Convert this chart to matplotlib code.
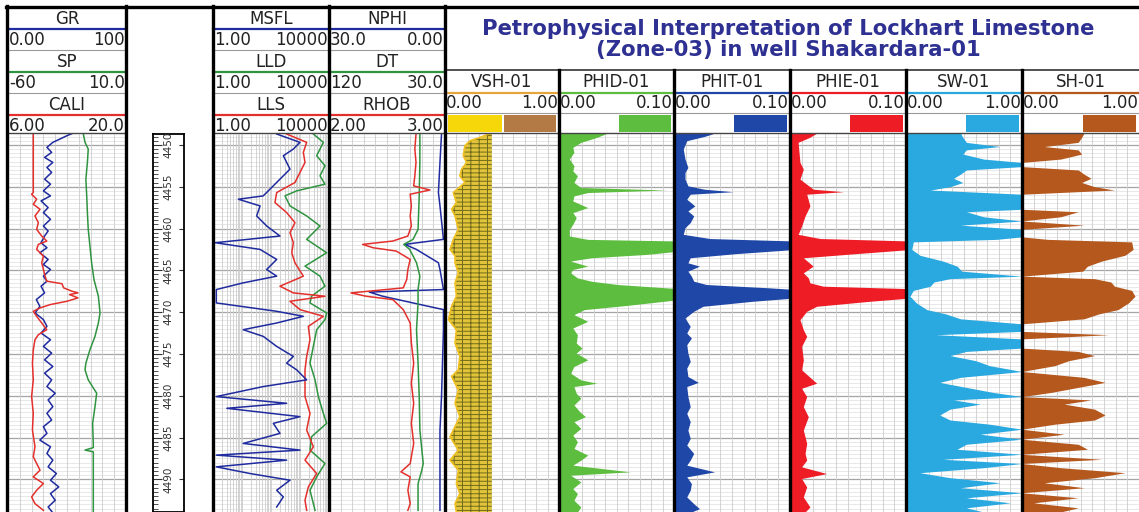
import numpy as np
import matplotlib.pyplot as plt

plt.rcParams['font.family'] = ['DejaVu Sans']
plt.rcParams['hatch.linewidth'] = 0.7

# ---------------- log data (depth in ft) ----------------
gr_depth = [4448.6, 4448.9, 4449.7, 4450.3, 4450.9, 4451.5, 4452.1, 4452.7, 4453.3, 4454.1,
            4454.7, 4455.5, 4456.1, 4456.7, 4457.5, 4458.1, 4458.9, 4459.7, 4460.3, 4460.9,
            4461.7, 4462.3, 4462.9, 4463.7, 4464.3, 4464.9, 4465.7, 4466.3, 4466.9, 4467.7,
            4468.5, 4469.3, 4470.1, 4470.9, 4471.7, 4472.5, 4473.3, 4474.1, 4474.9, 4475.7,
            4476.5, 4477.3, 4478.1, 4478.9, 4479.7, 4480.5, 4481.3, 4482.1, 4482.9, 4483.7,
            4484.5, 4485.3, 4486.1, 4486.9, 4487.7, 4488.5, 4489.3, 4490.1, 4490.9, 4491.7,
            4492.5, 4493.3, 4494.0]
gr = [55, 50, 38, 33, 37, 31, 38, 33, 37, 31,
      36, 30, 36, 28, 34, 30, 36, 30, 34, 31,
      28, 33, 27, 34, 30, 36, 30, 33, 28, 31,
      24, 27, 23, 30, 33, 28, 36, 30, 37, 31,
      38, 31, 37, 33, 40, 34, 38, 33, 37, 30,
      33, 27, 36, 33, 38, 34, 41, 36, 43, 36,
      40, 34, 38]

sp_depth = [4448.7, 4449.7, 4450.5, 4452.1, 4454.1, 4456.1, 4458.1, 4460.1, 4462.1, 4464.1,
            4466.1, 4468.1, 4470.1, 4471.3, 4472.9, 4474.5, 4476.1, 4476.9, 4478.1, 4479.7,
            4481.3, 4483.3, 4485.7, 4486.2, 4486.5, 4486.7, 4494.0]
sp = [-15.3, -14.3, -12.4, -12.9, -13.8, -13.3, -12.9, -12.4, -11.4, -10.4,
      -9.0, -6.4, -5.4, -6.4, -8.4, -11.4, -13.8, -14.3, -12.4, -7.4,
      -8.4, -9.8, -9.4, -9.4, -14.3, -9.4, -9.4]

cali_depth = [4448.6, 4455.7, 4455.9, 4456.5, 4457.1, 4457.7, 4458.5, 4459.3, 4460.1, 4460.9,
              4461.5, 4461.9, 4462.5, 4463.3, 4464.1, 4464.9, 4465.7, 4466.3, 4466.6, 4467.1,
              4467.5, 4467.7, 4467.9, 4468.3, 4468.7, 4469.1, 4469.5, 4469.9, 4470.5, 4471.3,
              4472.1, 4472.7, 4473.3, 4474.5, 4476.1, 4478.1, 4480.1, 4482.1, 4484.1, 4486.1,
              4487.3, 4488.1, 4488.9, 4489.7, 4490.5, 4491.3, 4492.1, 4492.9, 4493.7]
cali = [9.0, 9.0, 8.8, 9.4, 9.0, 9.8, 9.2, 9.6, 9.4, 10.0,
        10.6, 9.6, 9.4, 10.2, 10.0, 10.2, 10.4, 10.6, 12.4, 12.6,
        13.6, 14.3, 13.3, 14.3, 13.0, 11.0, 9.8, 9.0, 9.4, 10.0,
        10.6, 9.6, 9.2, 9.0, 8.9, 9.0, 8.8, 9.0, 8.9, 9.2,
        9.0, 9.4, 9.8, 9.0, 10.2, 9.4, 8.8, 9.2, 10.2]

msfl_depth = [4448.7, 4449.7, 4450.5, 4451.3, 4452.1, 4452.9, 4454.1, 4455.3, 4456.1, 4456.5,
              4457.3, 4458.5, 4459.7, 4460.9, 4461.7, 4462.5, 4463.7, 4464.9, 4465.7, 4466.5,
              4467.3, 4468.9, 4469.9, 4470.5, 4471.3, 4472.1, 4472.9, 4474.1, 4475.3, 4476.1,
              4476.9, 4478.1, 4478.9, 4480.1, 4480.9, 4481.5, 4482.5, 4483.3, 4484.5, 4485.7,
              4486.5, 4487.1, 4487.7, 4488.5, 4489.3, 4490.1, 4491.3, 4492.1, 4493.3]
msfl = [157, 1000, 589, 266, 347, 452, 204, 92, 54, 7.5,
        42, 32, 71, 204, 1.2, 42, 157, 71, 157, 11,
        1.3, 1.3, 157, 1303, 157, 11, 54, 157, 589, 347,
        767, 1698, 54, 1.3, 347, 3, 1000, 120, 204, 11,
        1000, 1.3, 347, 1.3, 19, 452, 157, 266, 157]

lld_depth = [4448.7, 4449.7, 4451.3, 4452.5, 4453.7, 4454.7, 4455.5, 4456.1, 4457.3, 4458.5,
             4459.7, 4461.3, 4462.9, 4464.5, 4465.7, 4466.9, 4468.1, 4468.9, 4470.1, 4470.9,
             4472.1, 4474.1, 4476.1, 4478.1, 4480.1, 4482.1, 4483.3, 4484.9, 4486.5, 4488.1,
             4489.7, 4491.3, 4492.9, 4493.7]
lld = [2884, 6383, 3758, 7278, 4898, 7278, 767, 304, 452, 1698,
       4898, 1698, 8318, 1487, 4898, 7278, 2500, 2213, 8318, 7278,
       3758, 2884, 2213, 3300, 4300, 6383, 8318, 2500, 2213, 7278,
       3758, 2213, 2884, 3300]

lls_depth = [4448.7, 4449.7, 4450.9, 4452.1, 4453.3, 4454.5, 4455.7, 4456.9, 4458.1, 4459.3,
             4460.5, 4461.7, 4462.9, 4464.1, 4465.7, 4466.9, 4467.7, 4468.1, 4468.7, 4469.7,
             4470.5, 4471.7, 4473.3, 4475.3, 4476.9, 4478.5, 4480.1, 4482.1, 4484.1, 4486.1,
             4487.7, 4489.3, 4490.9, 4492.5, 4493.7]
lls = [347, 1698, 1303, 1487, 1000, 670, 157, 137, 347, 670,
       452, 589, 520, 670, 1303, 204, 589, 7278, 452, 1000,
       6383, 1936, 2213, 1698, 1487, 1487, 1487, 2213, 1698, 2884,
       1487, 3758, 1936, 1487, 1698]

nphi_depth = [4448.7, 4452.1, 4455.7, 4457.3, 4461.3, 4461.9, 4462.5, 4464.1, 4464.9, 4467.3,
              4467.6, 4468.1, 4468.9, 4469.7, 4472.1, 4480.1, 4484.1, 4493.7]
nphi = [0.9, 1.3, 1.7, 1.3, 0.4, 10.4, 7.4, 1.7, 1.3, 0.4,
        19.6, 16.1, 8.3, 0.4, 0.4, 0.9, 1.3, 1.3]

dt_depth = [4448.7, 4452.1, 4456.1, 4460.1, 4461.3, 4461.9, 4462.5, 4464.1, 4465.7, 4467.3,
            4468.9, 4472.1, 4476.1, 4480.1, 4484.1, 4488.1, 4488.9, 4490.5, 4493.7]
dt = [49.5, 49.5, 50.0, 50.9, 54.8, 62.0, 57.4, 52.1, 49.5, 50.9,
      50.9, 52.1, 50.9, 50.0, 49.5, 46.9, 48.0, 50.9, 50.9]

rhob_depth = [4448.7, 4450.5, 4452.1, 4453.7, 4454.9, 4455.4, 4455.9, 4457.3, 4458.5, 4459.7,
              4460.9, 4461.5, 4461.9, 4462.3, 4462.7, 4463.7, 4464.9, 4466.1, 4467.1, 4467.7,
              4468.1, 4468.5, 4469.7, 4471.3, 4473.7, 4476.1, 4478.5, 4480.9, 4483.3, 4485.7,
              4488.1, 4489.1, 4489.7, 4491.3, 4492.9, 4493.7]
rhob = [2.75, 2.74, 2.75, 2.74, 2.73, 2.87, 2.70, 2.71, 2.70, 2.71,
        2.68, 2.55, 2.29, 2.38, 2.58, 2.70, 2.68, 2.67, 2.64, 2.19,
        2.32, 2.55, 2.64, 2.70, 2.71, 2.73, 2.71, 2.73, 2.71, 2.73,
        2.70, 2.62, 2.70, 2.68, 2.70, 2.68]

vsh_depth = [4448.6, 4449.1, 4449.5, 4450.1, 4451.3, 4452.1, 4452.9, 4453.7, 4454.5, 4455.7,
             4456.9, 4457.7, 4458.5, 4460.1, 4461.3, 4462.5, 4463.3, 4464.1, 4465.3, 4466.5,
             4468.1, 4469.3, 4470.9, 4472.1, 4473.7, 4475.3, 4476.9, 4477.7, 4479.3, 4480.9,
             4482.5, 4484.1, 4484.9, 4486.5, 4487.7, 4488.9, 4490.5, 4491.7, 4492.9, 4493.9]
vsh = [0.40, 0.31, 0.22, 0.175, 0.16, 0.19, 0.146, 0.13, 0.175, 0.073,
       0.10, 0.058, 0.088, 0.117, 0.073, 0.044, 0.088, 0.088, 0.117, 0.088,
       0.10, 0.058, 0.03, 0.10, 0.088, 0.13, 0.117, 0.058, 0.117, 0.088,
       0.13, 0.073, 0.044, 0.117, 0.044, 0.117, 0.10, 0.13, 0.088, 0.10]
vsh_base = 0.41

phid_depth = [4448.6, 4449.1, 4449.7, 4450.3, 4450.9, 4451.7, 4452.5, 4453.1, 4453.7, 4454.5,
              4455.1, 4455.4, 4455.7, 4456.1, 4456.7, 4457.5, 4458.1, 4458.7, 4459.5, 4460.1,
              4460.9, 4461.3, 4461.5, 4461.9, 4462.7, 4463.1, 4463.5, 4463.9, 4464.5, 4464.9,
              4465.3, 4465.9, 4466.3, 4466.7, 4467.2, 4468.1, 4468.5, 4468.8, 4469.2, 4469.7,
              4470.3, 4471.1, 4471.9, 4472.7, 4473.7, 4474.3, 4474.9, 4475.7, 4476.5, 4477.3,
              4478.1, 4478.5, 4478.9, 4479.7, 4480.3, 4481.1, 4481.9, 4482.5, 4483.1, 4483.9,
              4484.7, 4485.5, 4486.3, 4487.1, 4487.7, 4488.3, 4489.1, 4489.5, 4490.3, 4491.1,
              4491.7, 4492.5, 4493.3, 4493.9]
phid = [0.042, 0.033, 0.019, 0.012, 0.013, 0.009, 0.013, 0.012, 0.016, 0.013,
        0.019, 0.094, 0.025, 0.013, 0.012, 0.025, 0.012, 0.015, 0.012, 0.009,
        0.009, 0.025, 0.105, 0.105, 0.105, 0.076, 0.028, 0.010, 0.025, 0.012,
        0.010, 0.016, 0.028, 0.051, 0.105, 0.105, 0.105, 0.085, 0.059, 0.022,
        0.013, 0.025, 0.012, 0.016, 0.015, 0.020, 0.015, 0.025, 0.013, 0.010,
        0.019, 0.033, 0.013, 0.015, 0.019, 0.013, 0.018, 0.023, 0.013, 0.019,
        0.012, 0.016, 0.013, 0.025, 0.019, 0.012, 0.062, 0.010, 0.019, 0.012,
        0.016, 0.013, 0.019, 0.016]

phit_depth = [4448.6, 4449.0, 4449.5, 4450.5, 4451.7, 4452.7, 4453.3, 4454.1, 4454.9, 4455.3,
              4455.6, 4455.9, 4456.5, 4457.3, 4457.9, 4458.5, 4459.3, 4459.9, 4460.7, 4461.2,
              4461.5, 4462.5, 4463.0, 4463.5, 4464.1, 4464.5, 4465.1, 4465.7, 4466.3, 4466.7,
              4467.1, 4467.3, 4468.3, 4468.7, 4469.3, 4469.9, 4470.7, 4471.7, 4472.5, 4473.1,
              4473.9, 4474.9, 4475.9, 4476.7, 4477.7, 4478.4, 4478.9, 4480.1, 4481.3, 4482.1,
              4483.1, 4484.1, 4485.1, 4485.9, 4486.9, 4487.7, 4488.3, 4489.1, 4489.7, 4490.5,
              4491.3, 4492.1, 4492.9, 4493.5, 4493.9]
phit = [0.035, 0.026, 0.011, 0.008, 0.0095, 0.012, 0.0095, 0.0095, 0.012, 0.026,
        0.051, 0.014, 0.011, 0.018, 0.012, 0.017, 0.014, 0.0095, 0.008, 0.031,
        0.105, 0.105, 0.054, 0.014, 0.012, 0.022, 0.012, 0.015, 0.017, 0.028,
        0.083, 0.105, 0.105, 0.068, 0.025, 0.017, 0.0095, 0.014, 0.011, 0.015,
        0.011, 0.012, 0.014, 0.011, 0.012, 0.021, 0.011, 0.012, 0.014, 0.011,
        0.014, 0.012, 0.014, 0.011, 0.017, 0.014, 0.011, 0.035, 0.011, 0.015,
        0.014, 0.011, 0.017, 0.022, 0.015]

phie_depth = [4448.6, 4449.1, 4449.7, 4452.1, 4452.9, 4454.1, 4455.3, 4455.6, 4455.9, 4457.3,
              4458.5, 4459.7, 4460.7, 4461.2, 4461.5, 4462.5, 4463.0, 4463.5, 4464.5, 4465.3,
              4465.9, 4466.5, 4466.9, 4467.2, 4468.3, 4468.7, 4469.3, 4469.9, 4470.9, 4472.1,
              4472.9, 4474.1, 4475.7, 4476.9, 4478.5, 4479.1, 4480.1, 4481.3, 4482.5, 4484.1,
              4485.7, 4486.9, 4487.7, 4488.5, 4489.3, 4489.9, 4490.9, 4492.1, 4493.3, 4493.9]
phie = [0.023, 0.017, 0.007, 0.0086, 0.0115, 0.0086, 0.020, 0.046, 0.0144, 0.0172,
        0.013, 0.010, 0.007, 0.026, 0.105, 0.105, 0.0575, 0.0115, 0.020, 0.0115,
        0.0158, 0.0172, 0.0287, 0.105, 0.105, 0.069, 0.023, 0.0144, 0.0086, 0.0115,
        0.0144, 0.010, 0.0115, 0.010, 0.023, 0.010, 0.0144, 0.0115, 0.0158, 0.0115,
        0.0144, 0.013, 0.0144, 0.010, 0.0316, 0.010, 0.0144, 0.0115, 0.0172, 0.013]

sw_depth = [4448.6, 4449.1, 4449.7, 4450.2, 4450.6, 4451.1, 4451.7, 4452.1, 4452.6, 4453.0,
            4453.5, 4454.0, 4454.5, 4455.0, 4455.4, 4455.9, 4457.7, 4458.0, 4458.6, 4459.1,
            4459.6, 4460.1, 4461.0, 4461.3, 4461.6, 4462.5, 4463.2, 4463.9, 4464.5, 4465.1,
            4465.7, 4466.0, 4466.4, 4466.9, 4467.4, 4468.1, 4468.9, 4469.7, 4470.2, 4470.8,
            4471.4, 4472.3, 4472.7, 4473.2, 4474.3, 4474.7, 4475.2, 4475.8, 4476.4, 4477.1,
            4477.8, 4478.4, 4479.0, 4479.6, 4480.1, 4480.5, 4481.0, 4481.6, 4482.3, 4482.9,
            4483.4, 4484.0, 4484.6, 4485.2, 4485.8, 4486.4, 4487.0, 4487.6, 4488.1, 4488.6,
            4489.2, 4489.8, 4490.4, 4491.0, 4491.6, 4492.2, 4492.8, 4493.4, 4493.9]
sw = [0.47, 0.49, 0.52, 0.81, 0.52, 0.49, 0.67, 1.0, 1.0, 0.52,
      0.47, 0.41, 0.49, 0.38, 0.21, 1.0, 1.0, 0.52, 0.67, 1.0,
      0.47, 1.0, 1.0, 0.78, 0.063, 0.05, 0.12, 0.32, 0.44, 0.48,
      1.0, 0.38, 0.24, 0.21, 0.063, 0.034, 0.09, 0.18, 0.34, 0.47,
      1.0, 1.0, 0.26, 1.0, 1.0, 0.52, 0.38, 0.6, 0.72, 1.0,
      0.47, 0.29, 0.52, 0.75, 1.0, 0.41, 0.64, 0.38, 0.29, 0.38,
      0.72, 1.0, 0.64, 1.0, 0.52, 0.44, 1.0, 0.32, 1.0, 0.67,
      0.12, 0.38, 0.81, 0.47, 1.0, 0.52, 0.9, 0.52, 0.67]
sh = 1 - np.array(sw)  # hydrocarbon saturation

depth_labels = [4450, 4455, 4460, 4465, 4470, 4475, 4480, 4485, 4490]

# ---------------- colours ----------------
BLUE, GREEN, RED = '#1f2b9e', '#2f9440', '#e3302c'
C_VSH, C_PHID, C_PHIT, C_PHIE, C_SW, C_SH = '#e2c43a', '#5cbd3e', '#1f47a8', '#ee1c25', '#2aa9e0', '#b5581e'
TITLE_C = '#2e3192'

W, H = 1139, 512
TOP, BOT = 4448.7, 4493.9
BODY_Y = 134

fig = plt.figure(figsize=(W / 100, H / 100), dpi=100)


def make_track(x0, x1, lo, hi, log=False):
    ax = fig.add_axes([x0 / W, 0, (x1 - x0) / W, (H - BODY_Y) / H])
    if log:
        ax.set_xscale('log')
    ax.set_xlim(lo, hi)
    ax.set_ylim(BOT, TOP)
    ax.set_xticks([])
    ax.set_yticks([])
    ax.minorticks_off()
    for s in ax.spines.values():
        s.set_visible(False)
    ys = np.arange(4449, 4494.01, 0.5)
    ax.hlines(ys, lo, hi, color='#dedede', lw=0.5, zorder=0)
    ax.hlines(ys[ys % 5 == 0], lo, hi, color='#a5a5a5', lw=0.9, zorder=0)
    if log:
        xs = [m * 10 ** k for k in range(4) for m in range(1, 10)]
    else:
        xs = np.linspace(lo, hi, 11)
    ax.vlines(xs, TOP, BOT, color='#cccccc', lw=0.6, zorder=0)
    return ax


def twin(ax, lo, hi):
    t = ax.twiny()
    t.set_xlim(lo, hi)
    t.axis('off')
    return t


# track 1: GR / SP / CALI
ax1 = make_track(8, 126, 0, 100)
ax1.plot(gr, gr_depth, color=BLUE, lw=1.1)
twin(ax1, -60, 10).plot(sp, sp_depth, color=GREEN, lw=1.1)
twin(ax1, 6, 20).plot(cali, cali_depth, color=RED, lw=1.1)

# depth scale
axd = fig.add_axes([153 / W, 0, 31 / W, (H - BODY_Y) / H])
axd.set_xlim(0, 1)
axd.set_ylim(BOT, TOP)
axd.set_xticks([])
axd.set_yticks([])
for s in axd.spines.values():
    s.set_linewidth(1.3)
minor = np.arange(4449, 4494.01, 0.5)
axd.hlines(minor, 0, 0.16, color='#333333', lw=0.6)
axd.hlines(depth_labels, 0, 0.28, color='#333333', lw=0.8)
axd.hlines(depth_labels, 0.85, 1, color='#333333', lw=0.8)
for d in depth_labels:
    axd.text(0.5, d, str(d), rotation=90, ha='center', va='center',
             fontsize=7.5, color='#333333')

# track 3: resistivity
ax3 = make_track(213, 329, 1, 10000, log=True)
ax3.plot(lld, lld_depth, color=GREEN, lw=1.1)
ax3.plot(lls, lls_depth, color=RED, lw=1.1)
ax3.plot(msfl, msfl_depth, color=BLUE, lw=1.1)

# track 4: porosity logs
ax4 = make_track(329, 445, 30, 0)
twin(ax4, 120, 30).plot(dt, dt_depth, color=GREEN, lw=1.1)
twin(ax4, 2, 3).plot(rhob, rhob_depth, color=RED, lw=1.1)
ax4.plot(nphi, nphi_depth, color=BLUE, lw=1.1)

# VSH
axv = make_track(445, 559, 0, 1)
axv.fill_betweenx(vsh_depth, vsh, vsh_base, facecolor=C_VSH, edgecolor='#6f6a1c',
                  hatch='----||', lw=0)
axv.plot(vsh, vsh_depth, color='#f0c020', lw=1.2)

# porosities
for (x0, x1), dep, val, col in [((559, 674), phid_depth, phid, C_PHID),
                                ((674, 790), phit_depth, phit, C_PHIT),
                                ((790, 906), phie_depth, phie, C_PHIE)]:
    a = make_track(x0, x1, 0, 0.1)
    a.fill_betweenx(dep, 0, val, color=col, lw=0)

# saturations
axs = make_track(906, 1022, 0, 1)
axs.fill_betweenx(sw_depth, 0, sw, color=C_SW, lw=0)
axh = make_track(1022, 1139, 0, 1)
axh.fill_betweenx(sw_depth, 0, sh, color=C_SH, lw=0)

# ---------------- header + frame (pixel layout) ----------------
ov = fig.add_axes([0, 0, 1, 1], zorder=10)
ov.set_xlim(0, W)
ov.set_ylim(H, 0)
ov.axis('off')

left_tracks = [
    (8, 126, [('GR', '0.00', '100', BLUE), ('SP', '-60', '10.0', GREEN), ('CALI', '6.00', '20.0', RED)]),
    (213, 329, [('MSFL', '1.00', '10000', BLUE), ('LLD', '1.00', '10000', GREEN), ('LLS', '1.00', '10000', RED)]),
    (329, 445, [('NPHI', '30.0', '0.00', BLUE), ('DT', '120', '30.0', GREEN), ('RHOB', '2.00', '3.00', RED)]),
]
FS = 12
TXT = '#222222'
for x0, x1, rows in left_tracks:
    for i, (name, lo, hi, col) in enumerate(rows):
        t = 7 + 43 * i
        ov.text((x0 + x1) / 2, t + 12, name, ha='center', va='center', fontsize=FS, color=TXT)
        ov.plot([x0, x1], [t + 22, t + 22], color=col, lw=1.6)
        ov.text(x0 + 1, t + 33, lo, ha='left', va='center', fontsize=FS, color=TXT)
        ov.text(x1 - 1, t + 33, hi, ha='right', va='center', fontsize=FS, color=TXT)
        if i < 2:
            ov.plot([x0, x1], [t + 43, t + 43], color='#9a9a9a', lw=0.8)
    ov.plot([x0, x1], [133, 133], color='#444444', lw=1.0)

right_tracks = [
    (445, 559, 'VSH-01', '0.00', '1.00', '#e8a43c', ('#f6d80a', '#b47a45')),
    (559, 674, 'PHID-01', '0.00', '0.10', C_PHID, ('white', C_PHID)),
    (674, 790, 'PHIT-01', '0.00', '0.10', C_PHIT, ('white', C_PHIT)),
    (790, 906, 'PHIE-01', '0.00', '0.10', C_PHIE, ('white', C_PHIE)),
    (906, 1022, 'SW-01', '0.00', '1.00', C_SW, ('white', C_SW)),
    (1022, 1139, 'SH-01', '0.00', '1.00', C_SH, ('white', C_SH)),
]
for x0, x1, name, lo, hi, col, (c1, c2) in right_tracks:
    ov.text((x0 + x1) / 2, 82, name, ha='center', va='center', fontsize=FS, color=TXT)
    ov.plot([x0, x1], [93, 93], color=col, lw=1.6)
    ov.text(x0 + 1, 103, lo, ha='left', va='center', fontsize=FS, color=TXT)
    ov.text(x1 - 1, 103, hi, ha='right', va='center', fontsize=FS, color=TXT)
    ov.plot([x0, x1], [113, 113], color='#9a9a9a', lw=0.8)
    xm = (x0 + x1) / 2
    ov.fill_between([x0 + 3, xm], 115, 132, color=c1, lw=0)
    ov.fill_between([xm + 2, x1 - 3], 115, 132, color=c2, lw=0)
    ov.plot([x0, x1], [133, 133], color='#444444', lw=1.0)

ov.text(788, 29, 'Petrophysical Interpretation of Lockhart Limestone', ha='center', va='center',
        fontsize=15.2, fontweight='bold', color=TITLE_C)
ov.text(788, 50, '(Zone-03) in well Shakardara-01', ha='center', va='center',
        fontsize=15.2, fontweight='bold', color=TITLE_C)
ov.plot([445, 1139], [70, 70], color='#333333', lw=1.2)

# thick frame lines
ov.plot([6, 1139], [7, 7], color='black', lw=2.4)
for x in [7, 126, 213, 329, 445]:
    ov.plot([x, x], [6, H], color='black', lw=2.4)
for x in [559, 674, 790, 906, 1022]:
    ov.plot([x, x], [70, H], color='black', lw=2.4)

fig.savefig('out.png', dpi=100)
